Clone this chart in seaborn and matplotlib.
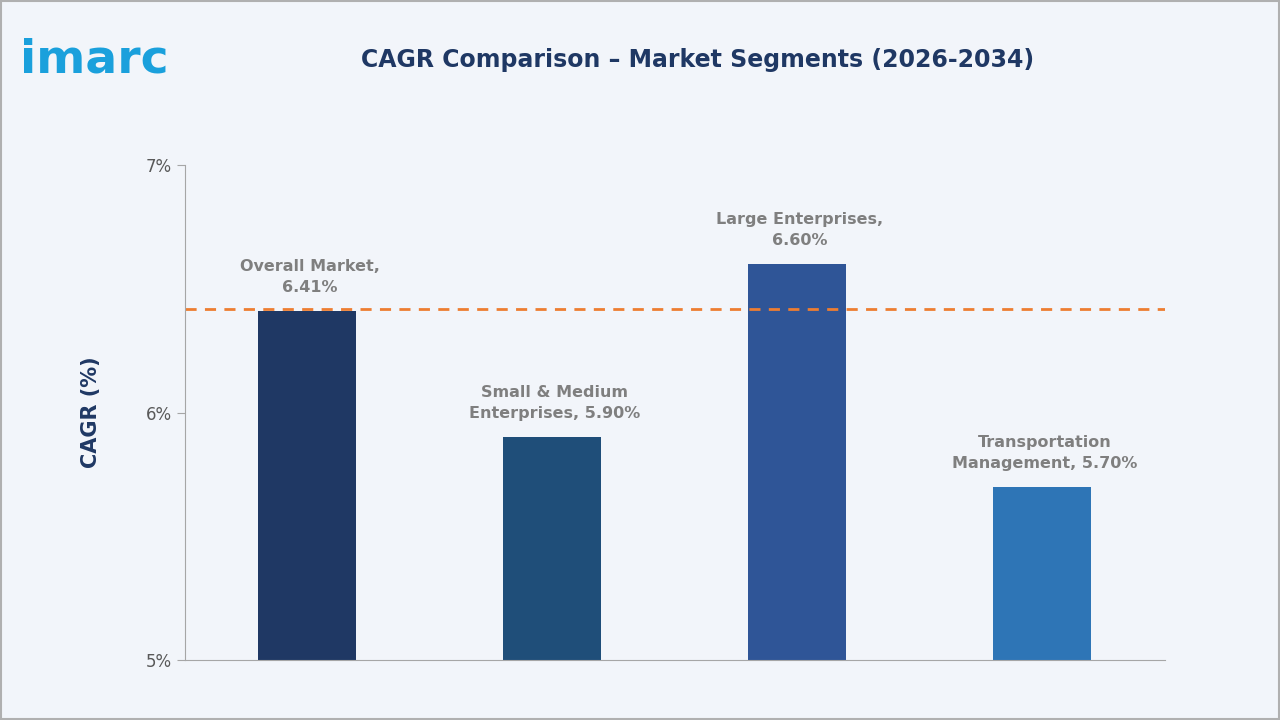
import matplotlib
matplotlib.use("Agg")
import matplotlib.pyplot as plt
import seaborn as sns
import pandas as pd

categories = ["Overall Market", "Small & Medium Enterprises", "Large Enterprises", "Transportation Management"]
values = [6.41, 5.90, 6.60, 5.70]
labels = ["Overall Market,\n6.41%", "Small & Medium\nEnterprises, 5.90%", "Large Enterprises,\n6.60%", "Transportation\nManagement, 5.70%"]
colors = ["#1f3864", "#1f4e79", "#2f5597", "#2e75b6"]
ref_line = 6.42
yticks = [5, 6, 7]
ytick_labels = ["5%", "6%", "7%"]

sns.set_style("white")
plt.rcParams['font.family'] = ['DejaVu Sans']
bg = "#f2f5fa"
fig = plt.figure(figsize=(12.8, 7.2), dpi=100, facecolor=bg)
fig.patches.append(plt.Rectangle((0.001, 0.001), 0.998, 0.998, transform=fig.transFigure,
                                 fill=False, edgecolor="#b0b0b0", lw=1.5))
ax = fig.add_axes([0.1445, 0.0833, 0.7656, 0.6875], facecolor=bg)
df = pd.DataFrame({"cat": categories, "val": values})
sns.barplot(data=df, x="cat", y="val", hue="cat", palette=colors, width=0.4, legend=False,
            saturation=1, linewidth=0, ax=ax)
ax.set_ylim(5, 7)
ax.set_xlim(-0.5, 3.5)
ax.axhline(ref_line, color="#ed7d31", ls=(0, (4, 3)), lw=2)
for i, (v, l) in enumerate(zip(values, labels)):
    ax.text(i + 0.01, v + 0.065, l, ha="center", va="bottom", fontsize=11.5, fontweight="bold", color="#7f7f7f", linespacing=1.5)
ax.set_xticks([])
ax.set_xlabel("")
ax.set_yticks(yticks)
ax.set_yticklabels(ytick_labels, fontsize=12, color="#595959")
ax.tick_params(axis="y", length=6, color="#a6a6a6", left=True)
ax.set_ylabel("CAGR (%)", fontsize=15, fontweight="bold", color="#1f3864", labelpad=32)
for s in ["top", "right"]:
    ax.spines[s].set_visible(False)
for s in ["left", "bottom"]:
    ax.spines[s].set_color("#a6a6a6")
fig.text(0.545, 0.917, "CAGR Comparison – Market Segments (2026-2034)", ha="center", va="center",
         fontsize=17, fontweight="bold", color="#1f3864")
fig.text(0.016, 0.917, "imarc", ha="left", va="center", fontsize=34, fontweight="bold", color="#1aa0dc")
fig.savefig("out.png", dpi=100, facecolor=bg)
